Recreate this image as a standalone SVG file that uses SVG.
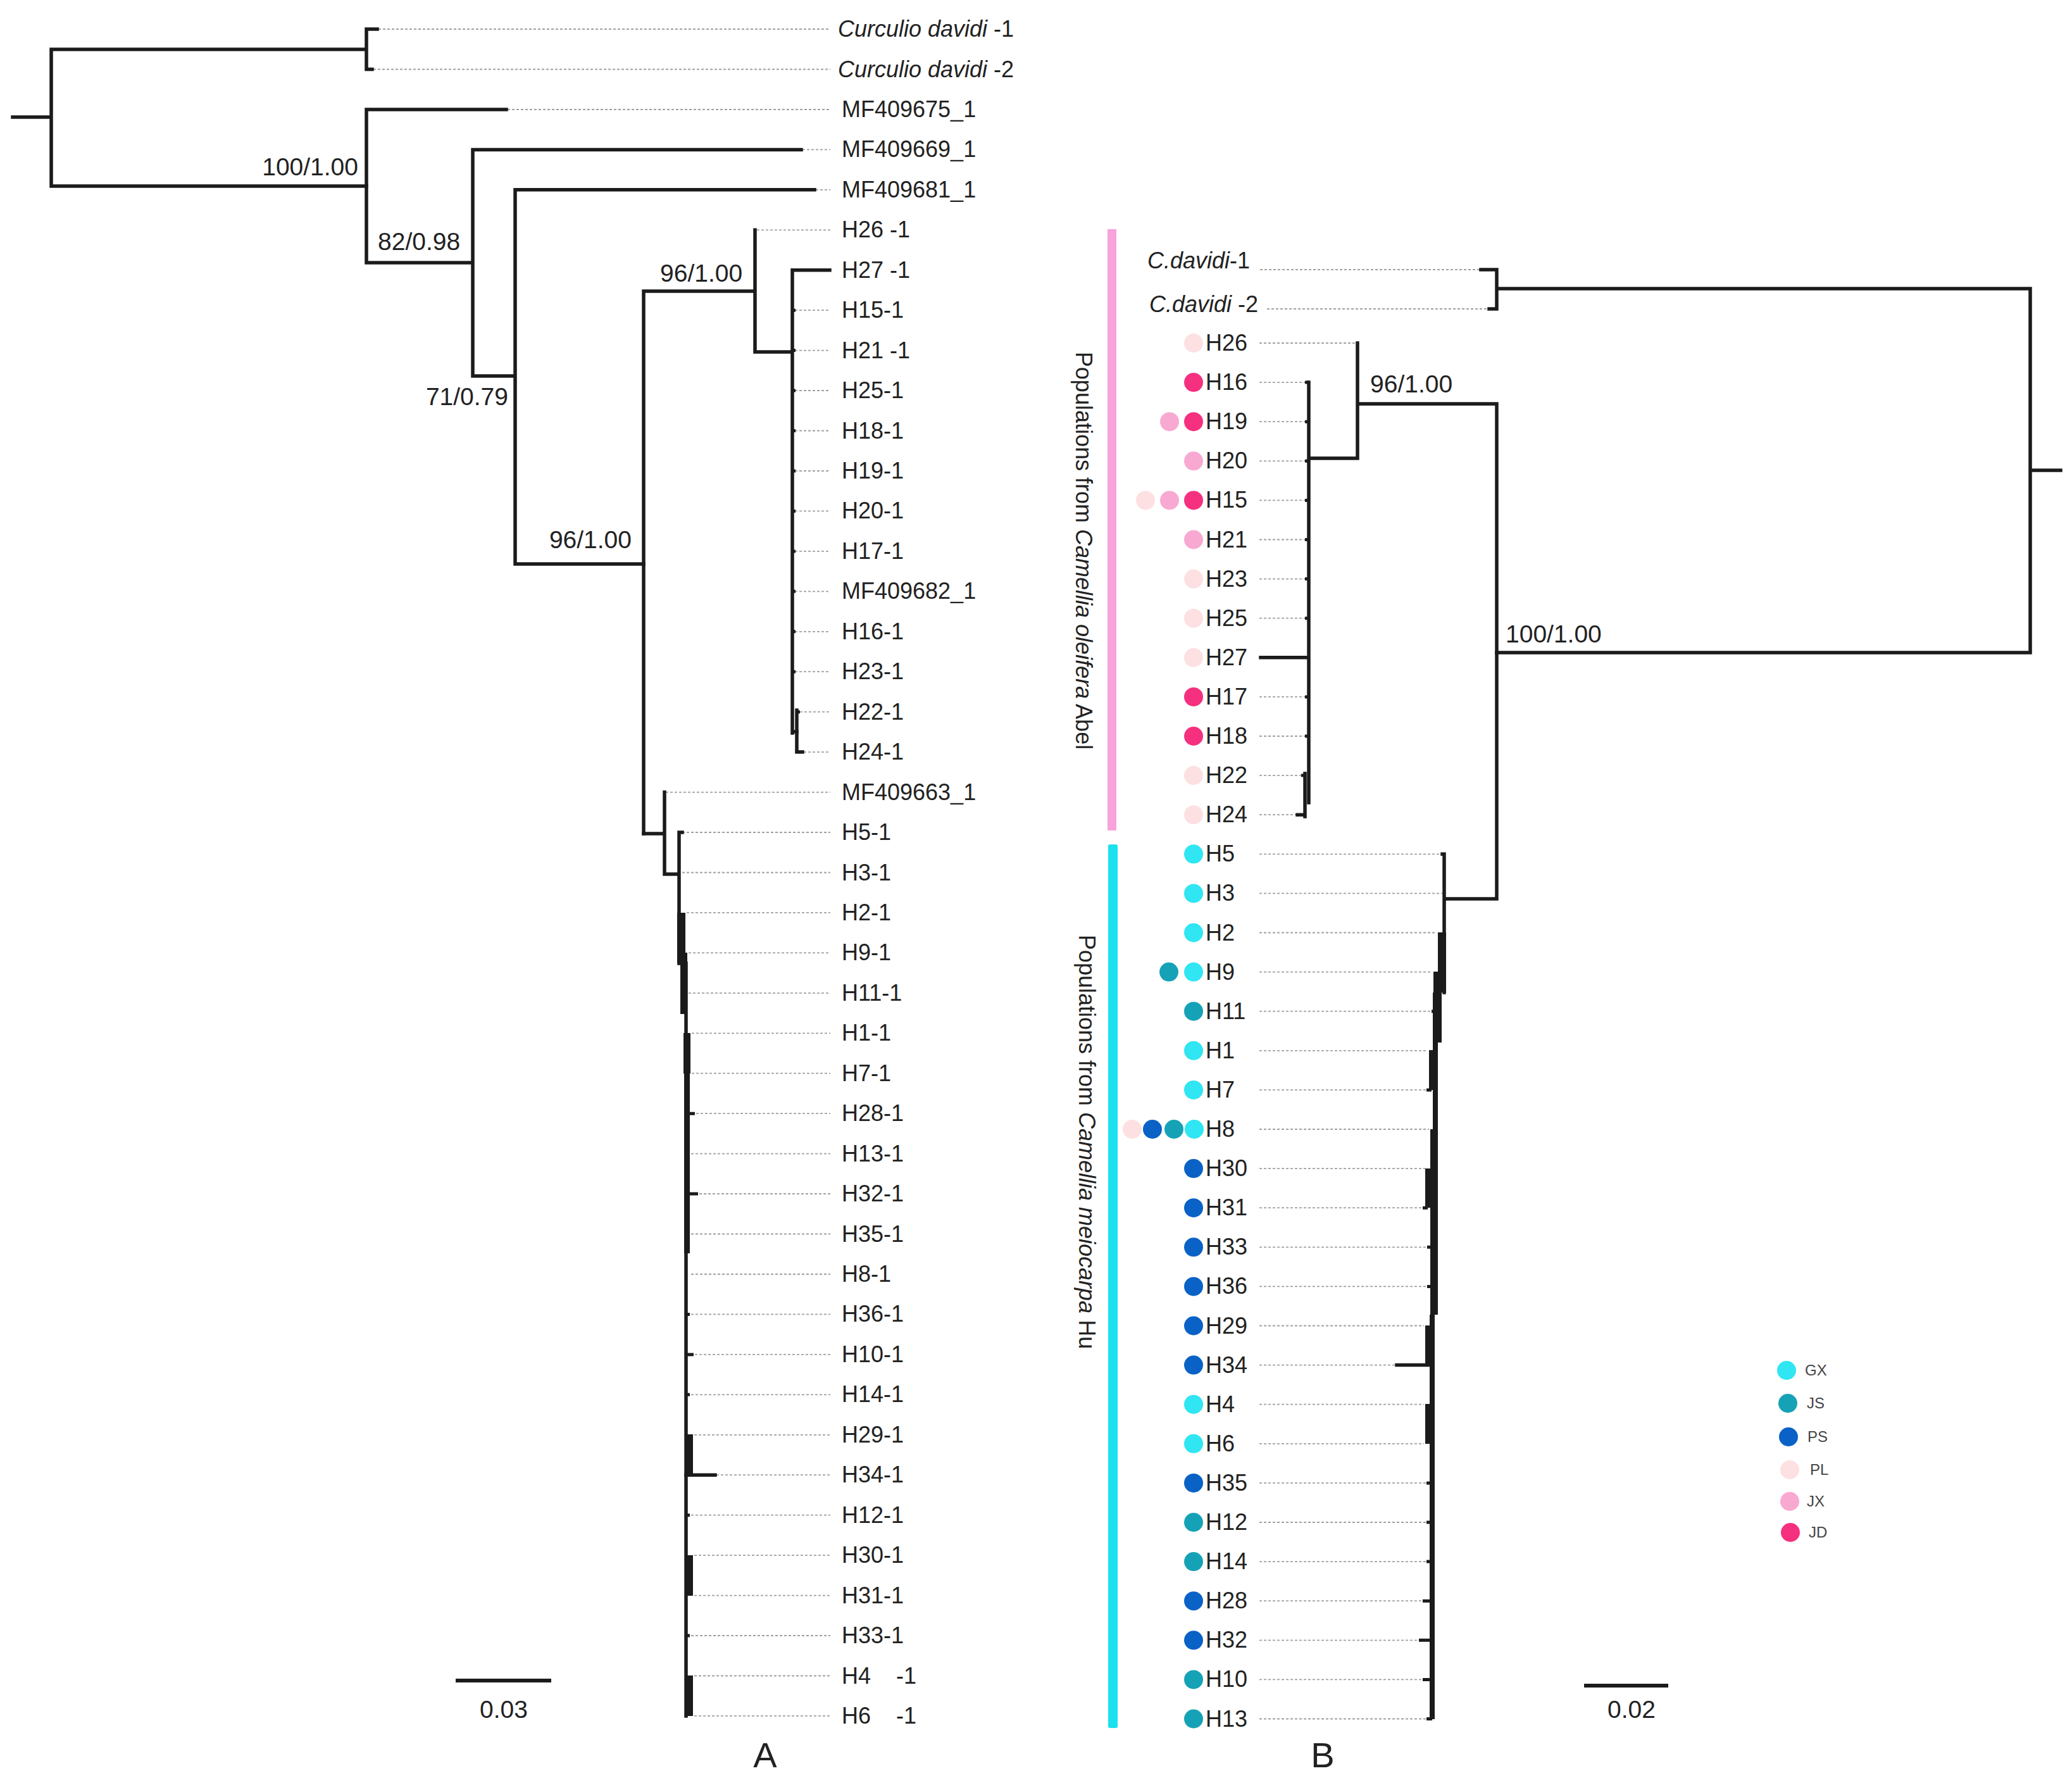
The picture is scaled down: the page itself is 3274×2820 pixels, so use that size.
<svg xmlns="http://www.w3.org/2000/svg" width="3274" height="2820" viewBox="0 0 3274 2820">
<style>
.br{stroke:#1b1b1b;stroke-width:5.5;fill:none;stroke-linecap:square}
.tk{stroke:#1b1b1b;stroke-width:5;fill:none}
.fb{fill:#1b1b1b}
.dt{stroke:#a0a0a0;stroke-width:1.8;stroke-dasharray:4 3;fill:none}
.tl{font-family:"Liberation Sans",Arial,sans-serif;font-size:36px;fill:#222}
.it{font-style:italic}
.sp{font-family:"Liberation Sans",Arial,sans-serif;font-size:39px;fill:#222}
.vt{font-family:"Liberation Sans",Arial,sans-serif;font-size:36px;fill:#222}
.lg{font-family:"Liberation Sans",Arial,sans-serif;font-size:24px;fill:#444}
.big{font-family:"Liberation Sans",Arial,sans-serif;font-size:56px;fill:#222;text-anchor:middle}
.GX{fill:#2fe6f2}.JS{fill:#16a2b6}.PS{fill:#0a62c6}.PL{fill:#fde0e2}.JX{fill:#f8a9d2}.JD{fill:#f5307f}
</style>
<rect width="3274" height="2820" fill="#ffffff"/>

<!-- ===== Tree A connectors ===== -->
<g id="connectors-A">
<g class="dt">
<line x1="598" y1="46" x2="1312" y2="46"/>
<line x1="590" y1="109.5" x2="1312" y2="109.5"/>
<line x1="802" y1="173" x2="1312" y2="173"/>
<line x1="1268" y1="236.4" x2="1312" y2="236.4"/>
<line x1="1289" y1="299.8" x2="1312" y2="299.8"/>
<line x1="1196" y1="363.3" x2="1312" y2="363.3"/>
<line x1="1256" y1="490.2" x2="1312" y2="490.2"/>
<line x1="1256" y1="553.6" x2="1312" y2="553.6"/>
<line x1="1256" y1="617" x2="1312" y2="617"/>
<line x1="1256" y1="680.5" x2="1312" y2="680.5"/>
<line x1="1256" y1="744" x2="1312" y2="744"/>
<line x1="1256" y1="807.4" x2="1312" y2="807.4"/>
<line x1="1256" y1="870.9" x2="1312" y2="870.9"/>
<line x1="1256" y1="934.3" x2="1312" y2="934.3"/>
<line x1="1256" y1="997.8" x2="1312" y2="997.8"/>
<line x1="1256" y1="1061.2" x2="1312" y2="1061.2"/>
<line x1="1264" y1="1124.7" x2="1312" y2="1124.7"/>
<line x1="1270" y1="1188.1" x2="1312" y2="1188.1"/>
<line x1="1052" y1="1251.6" x2="1312" y2="1251.6"/>
<line x1="1078" y1="1315" x2="1312" y2="1315"/>
<line x1="1078" y1="1378.5" x2="1312" y2="1378.5"/>
<line x1="1085" y1="1441.9" x2="1312" y2="1441.9"/>
<line x1="1088" y1="1505.4" x2="1312" y2="1505.4"/>
<line x1="1088" y1="1568.8" x2="1312" y2="1568.8"/>
<line x1="1093" y1="1632.3" x2="1312" y2="1632.3"/>
<line x1="1093" y1="1695.7" x2="1312" y2="1695.7"/>
<line x1="1100" y1="1759.2" x2="1312" y2="1759.2"/>
<line x1="1092" y1="1822.6" x2="1312" y2="1822.6"/>
<line x1="1105" y1="1886" x2="1312" y2="1886"/>
<line x1="1092" y1="1949.5" x2="1312" y2="1949.5"/>
<line x1="1092" y1="2013" x2="1312" y2="2013"/>
<line x1="1092" y1="2076.4" x2="1312" y2="2076.4"/>
<line x1="1098" y1="2139.9" x2="1312" y2="2139.9"/>
<line x1="1092" y1="2203.3" x2="1312" y2="2203.3"/>
<line x1="1097" y1="2266.8" x2="1312" y2="2266.8"/>
<line x1="1132" y1="2330.2" x2="1312" y2="2330.2"/>
<line x1="1092" y1="2393.7" x2="1312" y2="2393.7"/>
<line x1="1097" y1="2457.1" x2="1312" y2="2457.1"/>
<line x1="1097" y1="2520.6" x2="1312" y2="2520.6"/>
<line x1="1092" y1="2584" x2="1312" y2="2584"/>
<line x1="1097" y1="2647.5" x2="1312" y2="2647.5"/>
<line x1="1097" y1="2710.9" x2="1312" y2="2710.9"/>
</g>
<path class="br" d="M20 185H81 M81 78V294 M81 78H579 M579 46V109.5 M579 46H596 M579 109.5H588 M81 294H579"/>
<path class="br" d="M579 173V415 M579 173H800 M579 415H747 M747 236.4V594 M747 236.4H1266 M747 594H814 M814 299.8V891 M814 299.8H1287 M814 891H1017"/>
<path class="br" d="M1017 460V1317 M1017 460H1193 M1193 363.3V556 M1193 556H1252 M1252 426.7V1158 M1252 426.7H1311 M1252 1156H1259"/>
<path class="br" d="M1259 1122V1188 M1259 1188.1H1268"/>
<path class="tk" d="M1252 490.2H1257 M1252 553.6H1257 M1252 617H1257 M1252 680.5H1257 M1252 744H1257 M1252 807.4H1257 M1252 870.9H1257 M1252 934.3H1257 M1252 997.8H1257 M1252 1061.2H1257 M1259 1124.7H1264"/>
<path class="br" d="M1017 1317H1050 M1050 1251.6V1381 M1050 1381H1073 M1073 1315V1522 M1073 1315H1078"/>
<rect class="fb" x="1070" y="1442" width="13" height="80"/>
<rect class="fb" x="1075" y="1505" width="11" height="97"/>
<rect class="fb" x="1080" y="1632" width="11" height="64"/>
<rect class="fb" x="1081" y="1695" width="9" height="285"/>
<rect class="fb" x="1085" y="2266" width="10" height="65"/>
<rect class="fb" x="1085" y="2457" width="10" height="64"/>
<rect class="fb" x="1085" y="2647" width="10" height="64"/>
<path class="br" d="M1084 1522V2711"/>
<path class="tk" d="M1084 1759.2H1098 M1084 1886H1103 M1084 2140H1096 M1084 1822.6H1090 M1084 1949.5H1090 M1084 2076.4H1090 M1084 2203.3H1090 M1084 2393.7H1090 M1084 2584H1090"/>
<path class="br" d="M1084 2330.2H1130"/>
</g>

<!-- ===== Tree A support values ===== -->
<g id="support-A">
<text class="sp" x="566" y="277" text-anchor="end">100/1.00</text>
<text class="sp" x="597" y="395">82/0.98</text>
<text class="sp" x="803" y="640" text-anchor="end">71/0.79</text>
<text class="sp" x="998" y="866" text-anchor="end">96/1.00</text>
<text class="sp" x="1043" y="445">96/1.00</text>
</g>

<!-- ===== Tree A tip labels ===== -->
<g id="a-Cd1"><text class="tl" x="1324" y="58"><tspan class="it">Curculio davidi</tspan> -1</text></g>
<g id="a-Cd2"><text class="tl" x="1324" y="121.5"><tspan class="it">Curculio davidi</tspan> -2</text></g>
<g id="a-MF409675"><text class="tl" x="1330" y="185">MF409675_1</text></g>
<g id="a-MF409669"><text class="tl" x="1330" y="248.4">MF409669_1</text></g>
<g id="a-MF409681"><text class="tl" x="1330" y="311.8">MF409681_1</text></g>
<g id="a-H26"><text class="tl" x="1330" y="375.3">H26 -1</text></g>
<g id="a-H27"><text class="tl" x="1330" y="438.7">H27 -1</text></g>
<g id="a-H15"><text class="tl" x="1330" y="502.2">H15-1</text></g>
<g id="a-H21"><text class="tl" x="1330" y="565.6">H21 -1</text></g>
<g id="a-H25"><text class="tl" x="1330" y="629">H25-1</text></g>
<g id="a-H18"><text class="tl" x="1330" y="692.5">H18-1</text></g>
<g id="a-H19"><text class="tl" x="1330" y="756">H19-1</text></g>
<g id="a-H20"><text class="tl" x="1330" y="819.4">H20-1</text></g>
<g id="a-H17"><text class="tl" x="1330" y="882.9">H17-1</text></g>
<g id="a-MF409682"><text class="tl" x="1330" y="946.3">MF409682_1</text></g>
<g id="a-H16"><text class="tl" x="1330" y="1009.8">H16-1</text></g>
<g id="a-H23"><text class="tl" x="1330" y="1073.2">H23-1</text></g>
<g id="a-H22"><text class="tl" x="1330" y="1136.7">H22-1</text></g>
<g id="a-H24"><text class="tl" x="1330" y="1200.1">H24-1</text></g>
<g id="a-MF409663"><text class="tl" x="1330" y="1263.6">MF409663_1</text></g>
<g id="a-H5"><text class="tl" x="1330" y="1327">H5-1</text></g>
<g id="a-H3"><text class="tl" x="1330" y="1390.5">H3-1</text></g>
<g id="a-H2"><text class="tl" x="1330" y="1453.9">H2-1</text></g>
<g id="a-H9"><text class="tl" x="1330" y="1517.4">H9-1</text></g>
<g id="a-H11"><text class="tl" x="1330" y="1580.8">H11-1</text></g>
<g id="a-H1"><text class="tl" x="1330" y="1644.3">H1-1</text></g>
<g id="a-H7"><text class="tl" x="1330" y="1707.7">H7-1</text></g>
<g id="a-H28"><text class="tl" x="1330" y="1771.2">H28-1</text></g>
<g id="a-H13"><text class="tl" x="1330" y="1834.6">H13-1</text></g>
<g id="a-H32"><text class="tl" x="1330" y="1898">H32-1</text></g>
<g id="a-H35"><text class="tl" x="1330" y="1961.5">H35-1</text></g>
<g id="a-H8"><text class="tl" x="1330" y="2025">H8-1</text></g>
<g id="a-H36"><text class="tl" x="1330" y="2088.4">H36-1</text></g>
<g id="a-H10"><text class="tl" x="1330" y="2151.9">H10-1</text></g>
<g id="a-H14"><text class="tl" x="1330" y="2215.3">H14-1</text></g>
<g id="a-H29"><text class="tl" x="1330" y="2278.8">H29-1</text></g>
<g id="a-H34"><text class="tl" x="1330" y="2342.2">H34-1</text></g>
<g id="a-H12"><text class="tl" x="1330" y="2405.7">H12-1</text></g>
<g id="a-H30"><text class="tl" x="1330" y="2469.1">H30-1</text></g>
<g id="a-H31"><text class="tl" x="1330" y="2532.6">H31-1</text></g>
<g id="a-H33"><text class="tl" x="1330" y="2596">H33-1</text></g>
<g id="a-H4"><text class="tl" x="1330" y="2659.5" style="white-space:pre">H4    -1</text></g>
<g id="a-H6"><text class="tl" x="1330" y="2722.9" style="white-space:pre">H6    -1</text></g>

<!-- scale A -->
<g id="scale-A">
<line x1="720" y1="2655" x2="871" y2="2655" stroke="#1b1b1b" stroke-width="6"/>
<text class="sp" x="796" y="2714" text-anchor="middle" font-size="37">0.03</text>
</g>
<g id="label-A"><text class="big" x="1209" y="2792">A</text></g>

<!-- ===== Population bars ===== -->
<g id="bar-oleifera">
<rect x="1750" y="362" width="14" height="950" fill="#f7a3dc"/>
<text class="vt" transform="translate(1700 870) rotate(90)" text-anchor="middle">Populations from <tspan class="it">Camellia oleifera</tspan> Abel</text>
</g>
<g id="bar-meiocarpa">
<rect x="1751" y="1334" width="15" height="1396" rx="3" fill="#19e1ee"/>
<text class="vt" transform="translate(1705 1804) rotate(90)" text-anchor="middle">Populations from <tspan class="it">Camellia meiocarpa</tspan> Hu</text>
</g>

<!-- ===== Tree B connectors ===== -->
<g id="connectors-B">
<g class="dt">
<line x1="1991" y1="426" x2="2340" y2="426"/>
<line x1="2002" y1="488" x2="2353" y2="488"/>
<line x1="1990" y1="542" x2="2145" y2="542"/>
<line x1="1990" y1="604.1" x2="2062" y2="604.1"/>
<line x1="1990" y1="666.2" x2="2062" y2="666.2"/>
<line x1="1990" y1="728.3" x2="2062" y2="728.3"/>
<line x1="1990" y1="790.4" x2="2062" y2="790.4"/>
<line x1="1990" y1="852.5" x2="2062" y2="852.5"/>
<line x1="1990" y1="914.6" x2="2062" y2="914.6"/>
<line x1="1990" y1="976.7" x2="2062" y2="976.7"/>
<line x1="1990" y1="1100.9" x2="2062" y2="1100.9"/>
<line x1="1990" y1="1163" x2="2062" y2="1163"/>
<line x1="1990" y1="1225.1" x2="2056" y2="1225.1"/>
<line x1="1990" y1="1287.2" x2="2050" y2="1287.2"/>
<line x1="1990" y1="1349.3" x2="2279" y2="1349.3"/>
<line x1="1990" y1="1411.4" x2="2279" y2="1411.4"/>
<line x1="1990" y1="1473.5" x2="2270" y2="1473.5"/>
<line x1="1990" y1="1535.6" x2="2263" y2="1535.6"/>
<line x1="1990" y1="1597.7" x2="2262" y2="1597.7"/>
<line x1="1990" y1="1659.8" x2="2256" y2="1659.8"/>
<line x1="1990" y1="1721.9" x2="2254" y2="1721.9"/>
<line x1="1990" y1="1784" x2="2258" y2="1784"/>
<line x1="1990" y1="1846.1" x2="2252" y2="1846.1"/>
<line x1="1990" y1="1908.2" x2="2248" y2="1908.2"/>
<line x1="1990" y1="1970.3" x2="2255" y2="1970.3"/>
<line x1="1990" y1="2032.4" x2="2255" y2="2032.4"/>
<line x1="1990" y1="2094.5" x2="2250" y2="2094.5"/>
<line x1="1990" y1="2156.6" x2="2205" y2="2156.6"/>
<line x1="1990" y1="2218.7" x2="2250" y2="2218.7"/>
<line x1="1990" y1="2280.8" x2="2250" y2="2280.8"/>
<line x1="1990" y1="2342.9" x2="2254" y2="2342.9"/>
<line x1="1990" y1="2405" x2="2254" y2="2405"/>
<line x1="1990" y1="2467.1" x2="2254" y2="2467.1"/>
<line x1="1990" y1="2529.2" x2="2248" y2="2529.2"/>
<line x1="1990" y1="2591.3" x2="2242" y2="2591.3"/>
<line x1="1990" y1="2653.4" x2="2248" y2="2653.4"/>
<line x1="1990" y1="2715.5" x2="2254" y2="2715.5"/>
</g>
<path class="br" d="M2365 426V488 M2340 426H2365 M2353 488H2365 M2365 456H3208 M3208 456V1031 M3208 743H3256 M2365 1031H3208"/>
<path class="br" d="M2365 638V1420 M2145 638H2365 M2145 542V724 M2068 724H2145 M2068 604.1V1268 M1992 1038.8H2068 M2283 1420H2365"/>
<path class="br" d="M2062 1222V1290 M2050 1287.2H2062"/>
<path class="tk" d="M2062 604.1H2068 M2062 666.2H2068 M2062 728.3H2068 M2062 790.4H2068 M2062 852.5H2068 M2062 914.6H2068 M2062 976.7H2068 M2062 1100.9H2068 M2062 1163H2068 M2056 1225.1H2062"/>
<path class="br" d="M2282 1349.3V1568 M2279 1349.3H2282"/>
<rect class="fb" x="2272" y="1473" width="13" height="95"/>
<rect class="fb" x="2265" y="1535" width="13" height="112"/>
<rect class="fb" x="2258" y="1659" width="12" height="63"/>
<rect class="fb" x="2264" y="1568" width="8" height="509"/>
<rect class="fb" x="2260" y="1784" width="12" height="293"/>
<rect class="fb" x="2252" y="1846" width="16" height="62"/>
<rect class="fb" x="2259" y="2077" width="8" height="639"/>
<rect class="fb" x="2252" y="2094" width="11" height="63"/>
<rect class="fb" x="2252" y="2218" width="11" height="63"/>
<path class="tk" d="M2262 1597.7H2268 M2254 1721.9H2262 M2248 1908.2H2256 M2255 1970.3H2263 M2255 2032.4H2263 M2254 2342.9H2263 M2254 2405H2263 M2254 2467.1H2263 M2248 2529.2H2263 M2242 2591.3H2263 M2248 2653.4H2263 M2254 2715.5H2263"/>
<path class="br" d="M2207 2156.6H2258"/>
</g>

<!-- ===== Tree B support values ===== -->
<g id="support-B">
<text class="sp" x="2165" y="620">96/1.00</text>
<text class="sp" x="2379" y="1015">100/1.00</text>
</g>

<!-- ===== Tree B tip labels with population dots ===== -->
<g id="b-Cd1"><text class="tl" x="1813" y="424"><tspan class="it">C.davidi</tspan>-1</text></g>
<g id="b-Cd2"><text class="tl" x="1816" y="493"><tspan class="it">C.davidi</tspan> -2</text></g>
<g id="b-H26"><circle class="PL" cx="1886" cy="542" r="15"/><text class="tl" x="1905" y="554">H26</text></g>
<g id="b-H16"><circle class="JD" cx="1886" cy="604.1" r="15"/><text class="tl" x="1905" y="616.1">H16</text></g>
<g id="b-H19"><circle class="JX" cx="1848" cy="666.2" r="15"/><circle class="JD" cx="1886" cy="666.2" r="15"/><text class="tl" x="1905" y="678.2">H19</text></g>
<g id="b-H20"><circle class="JX" cx="1886" cy="728.3" r="15"/><text class="tl" x="1905" y="740.3">H20</text></g>
<g id="b-H15"><circle class="PL" cx="1810" cy="790.4" r="15"/><circle class="JX" cx="1848" cy="790.4" r="15"/><circle class="JD" cx="1886" cy="790.4" r="15"/><text class="tl" x="1905" y="802.4">H15</text></g>
<g id="b-H21"><circle class="JX" cx="1886" cy="852.5" r="15"/><text class="tl" x="1905" y="864.5">H21</text></g>
<g id="b-H23"><circle class="PL" cx="1886" cy="914.6" r="15"/><text class="tl" x="1905" y="926.6">H23</text></g>
<g id="b-H25"><circle class="PL" cx="1886" cy="976.7" r="15"/><text class="tl" x="1905" y="988.7">H25</text></g>
<g id="b-H27"><circle class="PL" cx="1886" cy="1038.8" r="15"/><text class="tl" x="1905" y="1050.8">H27</text></g>
<g id="b-H17"><circle class="JD" cx="1886" cy="1100.9" r="15"/><text class="tl" x="1905" y="1112.9">H17</text></g>
<g id="b-H18"><circle class="JD" cx="1886" cy="1163" r="15"/><text class="tl" x="1905" y="1175">H18</text></g>
<g id="b-H22"><circle class="PL" cx="1886" cy="1225.1" r="15"/><text class="tl" x="1905" y="1237.1">H22</text></g>
<g id="b-H24"><circle class="PL" cx="1886" cy="1287.2" r="15"/><text class="tl" x="1905" y="1299.2">H24</text></g>
<g id="b-H5"><circle class="GX" cx="1886" cy="1349.3" r="15"/><text class="tl" x="1905" y="1361.3">H5</text></g>
<g id="b-H3"><circle class="GX" cx="1886" cy="1411.4" r="15"/><text class="tl" x="1905" y="1423.4">H3</text></g>
<g id="b-H2"><circle class="GX" cx="1886" cy="1473.5" r="15"/><text class="tl" x="1905" y="1485.5">H2</text></g>
<g id="b-H9"><circle class="JS" cx="1847" cy="1535.6" r="15"/><circle class="GX" cx="1886" cy="1535.6" r="15"/><text class="tl" x="1905" y="1547.6">H9</text></g>
<g id="b-H11"><circle class="JS" cx="1886" cy="1597.7" r="15"/><text class="tl" x="1905" y="1609.7">H11</text></g>
<g id="b-H1"><circle class="GX" cx="1886" cy="1659.8" r="15"/><text class="tl" x="1905" y="1671.8">H1</text></g>
<g id="b-H7"><circle class="GX" cx="1886" cy="1721.9" r="15"/><text class="tl" x="1905" y="1733.9">H7</text></g>
<g id="b-H8"><circle class="PL" cx="1789" cy="1784" r="15"/><circle class="PS" cx="1821" cy="1784" r="15"/><circle class="JS" cx="1855" cy="1784" r="15"/><circle class="GX" cx="1887" cy="1784" r="15"/><text class="tl" x="1905" y="1796">H8</text></g>
<g id="b-H30"><circle class="PS" cx="1886" cy="1846.1" r="15"/><text class="tl" x="1905" y="1858.1">H30</text></g>
<g id="b-H31"><circle class="PS" cx="1886" cy="1908.2" r="15"/><text class="tl" x="1905" y="1920.2">H31</text></g>
<g id="b-H33"><circle class="PS" cx="1886" cy="1970.3" r="15"/><text class="tl" x="1905" y="1982.3">H33</text></g>
<g id="b-H36"><circle class="PS" cx="1886" cy="2032.4" r="15"/><text class="tl" x="1905" y="2044.4">H36</text></g>
<g id="b-H29"><circle class="PS" cx="1886" cy="2094.5" r="15"/><text class="tl" x="1905" y="2106.5">H29</text></g>
<g id="b-H34"><circle class="PS" cx="1886" cy="2156.6" r="15"/><text class="tl" x="1905" y="2168.6">H34</text></g>
<g id="b-H4"><circle class="GX" cx="1886" cy="2218.7" r="15"/><text class="tl" x="1905" y="2230.7">H4</text></g>
<g id="b-H6"><circle class="GX" cx="1886" cy="2280.8" r="15"/><text class="tl" x="1905" y="2292.8">H6</text></g>
<g id="b-H35"><circle class="PS" cx="1886" cy="2342.9" r="15"/><text class="tl" x="1905" y="2354.9">H35</text></g>
<g id="b-H12"><circle class="JS" cx="1886" cy="2405" r="15"/><text class="tl" x="1905" y="2417">H12</text></g>
<g id="b-H14"><circle class="JS" cx="1886" cy="2467.1" r="15"/><text class="tl" x="1905" y="2479.1">H14</text></g>
<g id="b-H28"><circle class="PS" cx="1886" cy="2529.2" r="15"/><text class="tl" x="1905" y="2541.2">H28</text></g>
<g id="b-H32"><circle class="PS" cx="1886" cy="2591.3" r="15"/><text class="tl" x="1905" y="2603.3">H32</text></g>
<g id="b-H10"><circle class="JS" cx="1886" cy="2653.4" r="15"/><text class="tl" x="1905" y="2665.4">H10</text></g>
<g id="b-H13"><circle class="JS" cx="1886" cy="2715.5" r="15"/><text class="tl" x="1905" y="2727.5">H13</text></g>

<!-- legend -->
<g id="legend">
<circle class="GX" cx="2823" cy="2165" r="15"/><text class="lg" x="2852" y="2173">GX</text>
<circle class="JS" cx="2825" cy="2217" r="15"/><text class="lg" x="2855" y="2225">JS</text>
<circle class="PS" cx="2826" cy="2270" r="15"/><text class="lg" x="2856" y="2278">PS</text>
<circle class="PL" cx="2828" cy="2322" r="15"/><text class="lg" x="2860" y="2330">PL</text>
<circle class="JX" cx="2828" cy="2372" r="15"/><text class="lg" x="2855" y="2380">JX</text>
<circle class="JD" cx="2829" cy="2421" r="15"/><text class="lg" x="2858" y="2429">JD</text>
</g>

<!-- scale B -->
<g id="scale-B">
<line x1="2503" y1="2663" x2="2636" y2="2663" stroke="#1b1b1b" stroke-width="6"/>
<text class="sp" x="2578" y="2714" text-anchor="middle" font-size="37">0.02</text>
</g>
<g id="label-B"><text class="big" x="2090" y="2792">B</text></g>
</svg>
